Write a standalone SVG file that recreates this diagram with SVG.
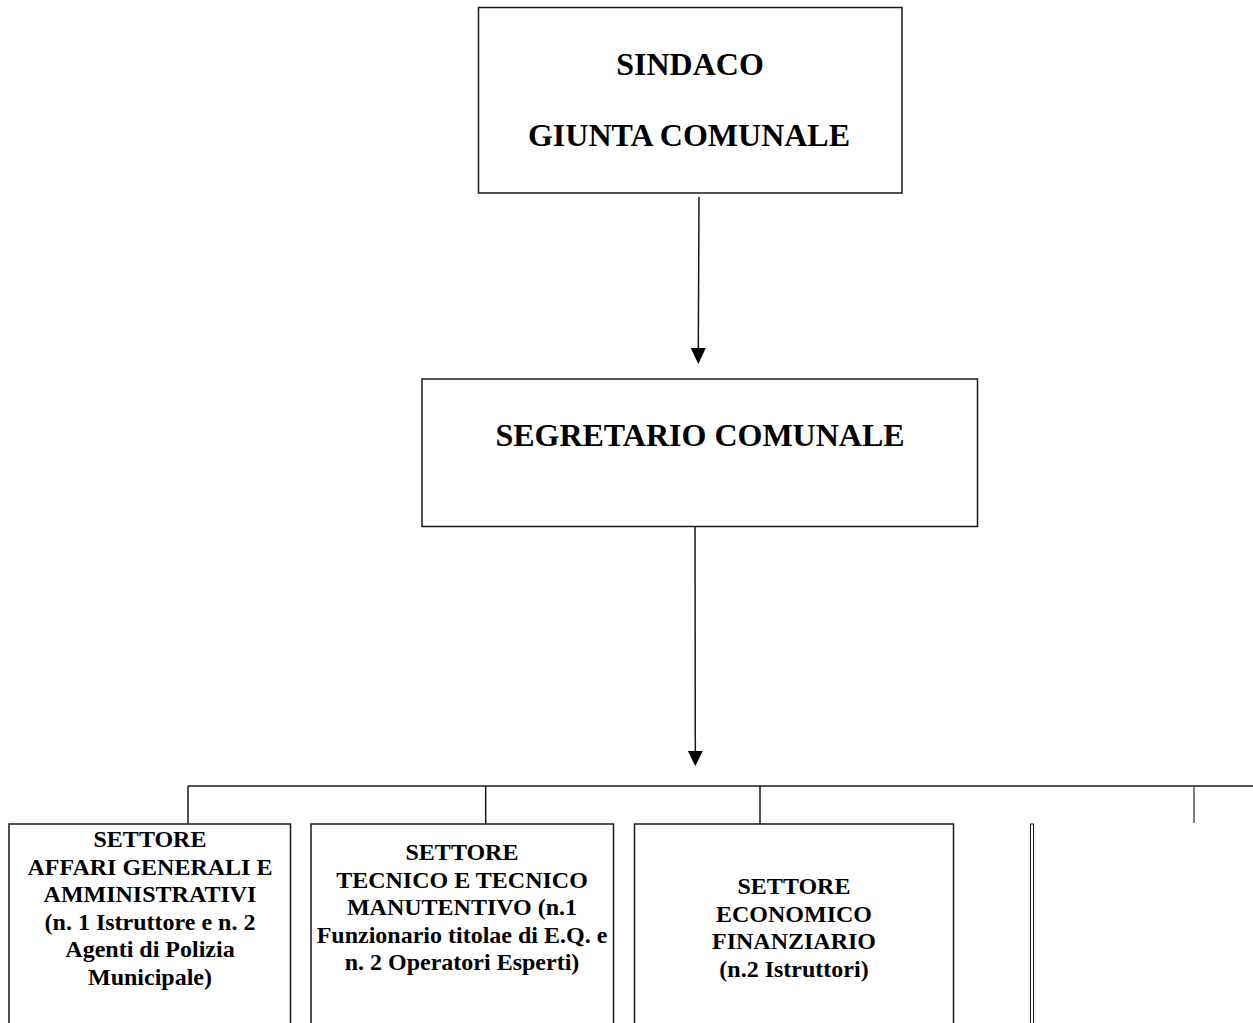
<svg xmlns="http://www.w3.org/2000/svg" width="1253" height="1023" viewBox="0 0 1253 1023">
<defs>
<style>
.box{fill:#fff;stroke:#1a1a1a;stroke-width:1.5}
.ln{stroke:#1a1a1a;stroke-width:1.5;fill:none}
.t{font-family:"Liberation Serif","Times New Roman",serif;font-weight:bold;fill:#000;text-anchor:middle}
.big{font-size:32px}
.sm{font-size:24px}
</style>
<marker id="ah" viewBox="0 0 10 10" refX="10" refY="5" markerWidth="10" markerHeight="10" markerUnits="userSpaceOnUse" orient="auto">
<path d="M0,0 L10,5 L0,10 Z" fill="#000"/>
</marker>
</defs>
<rect width="1253" height="1023" fill="#fff"/>
<g id="connectors">
<line class="ln" x1="699" y1="197" x2="698.3" y2="349"/>
<polygon points="690.8,348 705.8,348 698.3,364" fill="#000"/>
<line class="ln" x1="695" y1="509" x2="695.3" y2="752"/>
<polygon points="687.8,751 702.8,751 695.3,766" fill="#000"/>
<line class="ln" x1="188" y1="786" x2="1253" y2="786"/>
<line class="ln" x1="188" y1="786" x2="188" y2="824"/>
<line class="ln" x1="485.7" y1="786" x2="485.7" y2="824"/>
<line class="ln" x1="760" y1="786" x2="760" y2="824"/>
<line class="ln" x1="1194" y1="786" x2="1194" y2="823" style="stroke:#555"/>
</g>
<g id="sindaco">
<rect class="box" x="478.5" y="7.5" width="423.5" height="185.5"/>
<text class="t big" x="690" y="75">SINDACO</text>
<text class="t big" x="689" y="146">GIUNTA COMUNALE</text>
</g>
<g id="segretario">
<rect class="box" x="422" y="379" width="555.5" height="147.5"/>
<text class="t big" x="700" y="446">SEGRETARIO COMUNALE</text>
</g>
<g id="settore-affari">
<rect class="box" x="9" y="824" width="281.5" height="220"/>
<text class="t sm" x="150" y="847">SETTORE</text>
<text class="t sm" x="150" y="874.6">AFFARI GENERALI E</text>
<text class="t sm" x="150" y="902.2">AMMINISTRATIVI</text>
<text class="t sm" x="150" y="929.8">(n. 1 Istruttore e n. 2</text>
<text class="t sm" x="150" y="957.4">Agenti di Polizia</text>
<text class="t sm" x="150" y="985">Municipale)</text>
</g>
<g id="settore-tecnico">
<rect class="box" x="311" y="824" width="302.5" height="220"/>
<text class="t sm" x="462" y="860">SETTORE</text>
<text class="t sm" x="462" y="887.6">TECNICO E TECNICO</text>
<text class="t sm" x="462" y="915.2">MANUTENTIVO (n.1</text>
<text class="t sm" x="462" y="942.8">Funzionario titolae di E.Q. e</text>
<text class="t sm" x="462" y="970.4">n. 2 Operatori Esperti)</text>
</g>
<g id="settore-economico">
<rect class="box" x="634.5" y="824" width="319" height="220"/>
<text class="t sm" x="794" y="894">SETTORE</text>
<text class="t sm" x="794" y="921.6">ECONOMICO</text>
<text class="t sm" x="794" y="949.2">FINANZIARIO</text>
<text class="t sm" x="794" y="976.8">(n.2 Istruttori)</text>
</g>
<g id="settore-vuoto">
<rect x="1030.5" y="824" width="3" height="220" fill="none" stroke="#1a1a1a" stroke-width="1"/>
</g>
</svg>
